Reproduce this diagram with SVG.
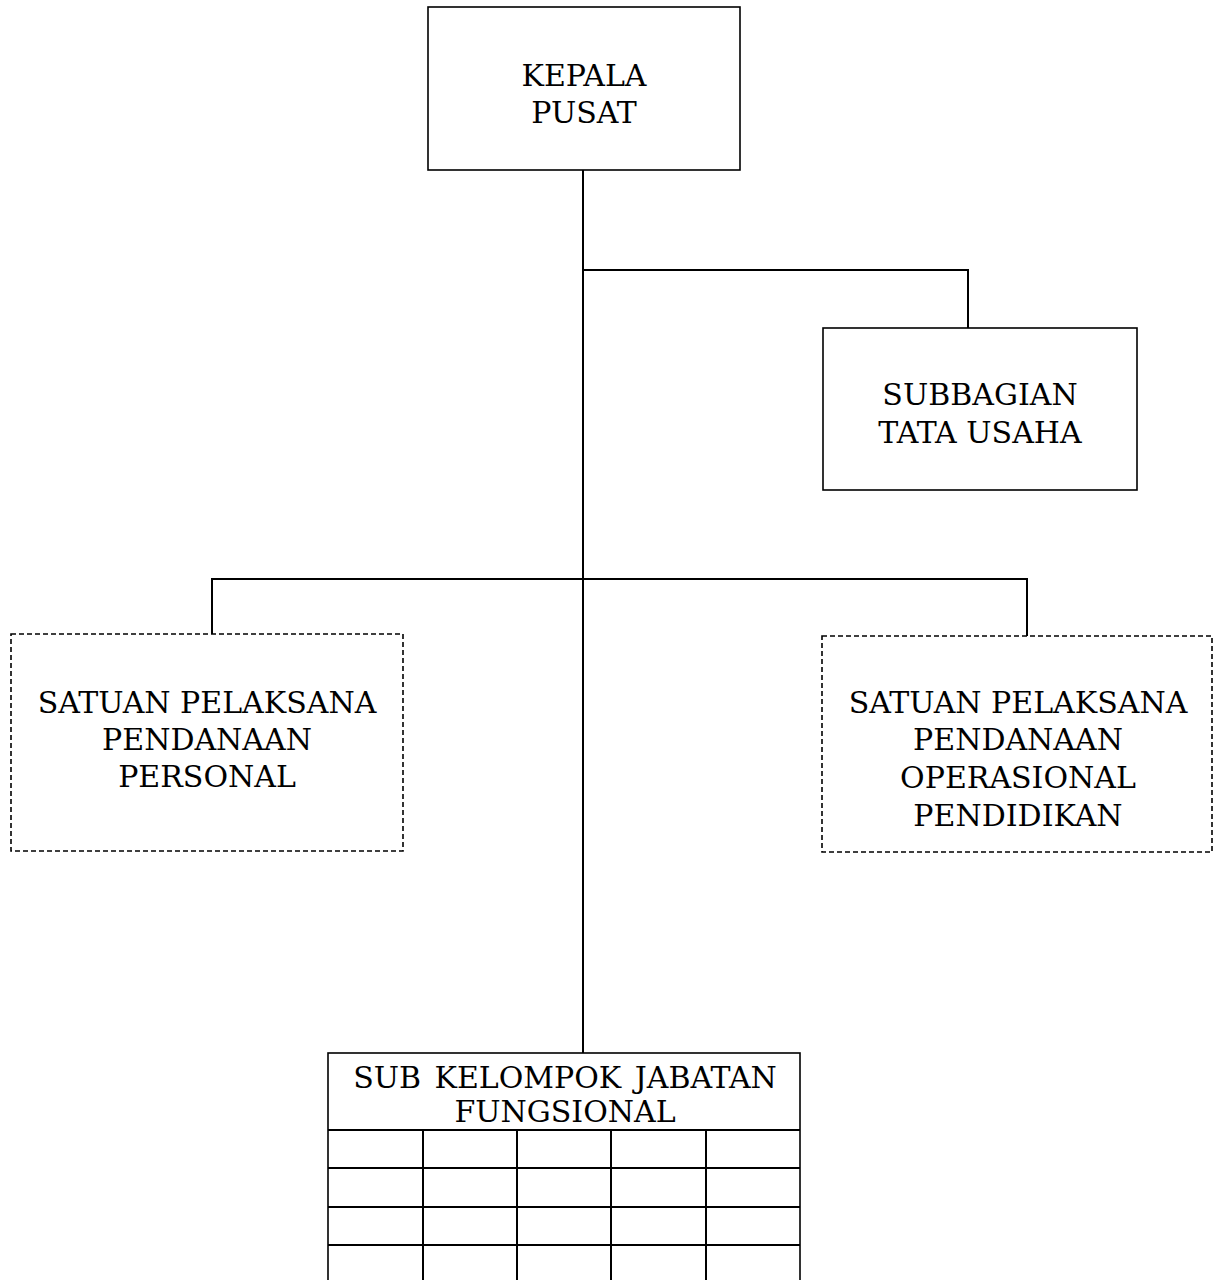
<svg xmlns="http://www.w3.org/2000/svg" width="1213" height="1280" viewBox="0 0 1213 1280">
<style>
.box{fill:#fff;stroke:#000;stroke-width:1.6}
.dash{fill:#fff;stroke:#000;stroke-width:1.6;stroke-dasharray:5 3}
.ln{fill:none;stroke:#000;stroke-width:2}
.t{font-family:"DejaVu Serif","Liberation Serif",serif;font-size:30px;fill:#000;text-anchor:middle}
</style>
<rect width="1213" height="1280" fill="#fff"/>
<g id="connectors">
<line class="ln" x1="583" y1="170" x2="583" y2="1053"/>
<polyline class="ln" points="583,270 968,270 968,328"/>
<polyline class="ln" points="212,634 212,579 1027,579 1027,636"/>
</g>
<g id="kepala">
<rect class="box" x="428" y="7" width="312" height="163"/>
<text class="t" x="584" y="86">KEPALA</text>
<text class="t" x="584" y="123">PUSAT</text>
</g>
<g id="subbagian">
<rect class="box" x="823" y="328" width="314" height="162"/>
<text class="t" x="980" y="405">SUBBAGIAN</text>
<text class="t" x="980" y="443">TATA USAHA</text>
</g>
<g id="satpel-personal">
<rect class="dash" x="11" y="634" width="392" height="217"/>
<text class="t" x="207" y="713">SATUAN PELAKSANA</text>
<text class="t" x="207" y="750">PENDANAAN</text>
<text class="t" x="207" y="787">PERSONAL</text>
</g>
<g id="satpel-operasional">
<rect class="dash" x="822" y="636" width="390" height="216"/>
<text class="t" x="1018" y="713">SATUAN PELAKSANA</text>
<text class="t" x="1018" y="750">PENDANAAN</text>
<text class="t" x="1018" y="788">OPERASIONAL</text>
<text class="t" x="1018" y="826">PENDIDIKAN</text>
</g>
<g id="jabatan-fungsional">
<rect class="box" x="328" y="1053" width="472" height="240"/>
<text class="t" x="565" y="1088" word-spacing="4">SUB KELOMPOK JABATAN</text>
<text class="t" x="565" y="1122">FUNGSIONAL</text>
<g class="ln">
<line x1="328" y1="1130" x2="800" y2="1130"/>
<line x1="328" y1="1168" x2="800" y2="1168"/>
<line x1="328" y1="1207" x2="800" y2="1207"/>
<line x1="328" y1="1245" x2="800" y2="1245"/>
<line x1="423" y1="1130" x2="423" y2="1280"/>
<line x1="517" y1="1130" x2="517" y2="1280"/>
<line x1="611" y1="1130" x2="611" y2="1280"/>
<line x1="706" y1="1130" x2="706" y2="1280"/>
</g>
</g>
</svg>
